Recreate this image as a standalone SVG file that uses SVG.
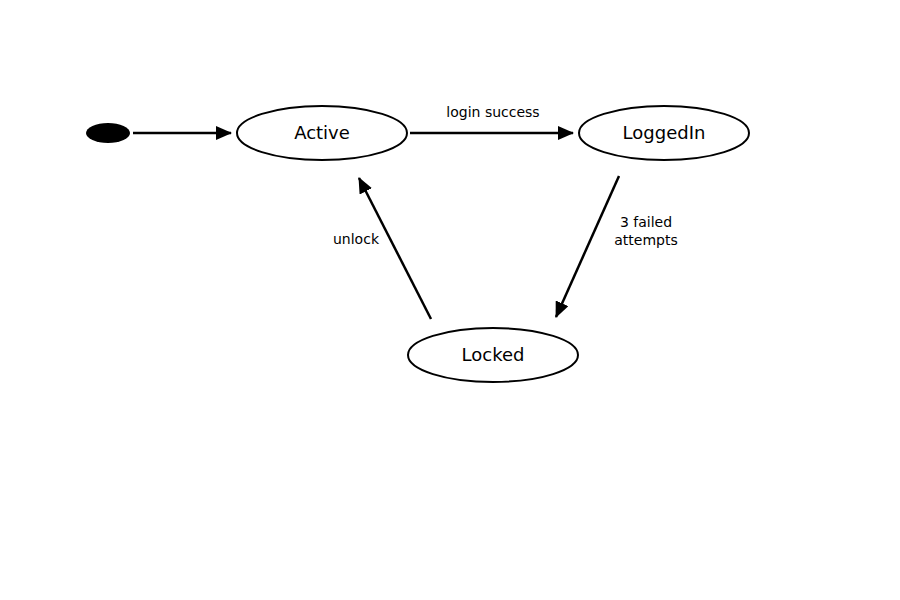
<svg xmlns="http://www.w3.org/2000/svg" width="900" height="600" viewBox="0 0 900 600">
<style>
.n{fill:#fff;stroke:#000;stroke-width:2}
.t{font-family:"DejaVu Sans",sans-serif;font-size:18px;text-anchor:middle}
.l{font-family:"DejaVu Sans",sans-serif;font-size:14px;text-anchor:middle}
.e{stroke:#000;stroke-width:2.5;fill:none;marker-end:url(#a)}
</style>
<defs><marker id="a" markerWidth="10" markerHeight="10" refX="9" refY="5" orient="auto" markerUnits="userSpaceOnUse" viewBox="0 0 10 10"><path d="M0,0L10,5L0,10z"/></marker>
<marker id="b" markerWidth="16" markerHeight="14" refX="15" refY="7" orient="auto" markerUnits="userSpaceOnUse" viewBox="0 0 16 14"><path d="M0,0L16,7L0,14z"/></marker></defs>
<rect width="900" height="600" fill="#fff"/>
<g id="start"><ellipse cx="108" cy="133" rx="22" ry="10"/></g>
<g id="active"><ellipse class="n" cx="322" cy="133" rx="85" ry="27"/><text class="t" x="322" y="139">Active</text></g>
<g id="loggedin"><ellipse class="n" cx="664" cy="133" rx="85" ry="27"/><text class="t" x="664" y="139">LoggedIn</text></g>
<g id="locked"><ellipse class="n" cx="493" cy="355" rx="85" ry="27"/><text class="t" x="493" y="361">Locked</text></g>
<g id="edges" style="marker-end:url(#b)">
<path class="e" style="marker-end:url(#b)" d="M133,133L231,133"/>
<path class="e" style="marker-end:url(#b)" d="M410,133L573,133"/>
<path class="e" style="marker-end:url(#b)" d="M619,176L556,317"/>
<path class="e" style="marker-end:url(#b)" d="M431,319L359,178"/>
<text class="l" x="493" y="117">login success</text>
<text class="l" x="646" y="227">3 failed</text>
<text class="l" x="646" y="245">attempts</text>
<text class="l" x="356" y="244">unlock</text>
</g>
</svg>
